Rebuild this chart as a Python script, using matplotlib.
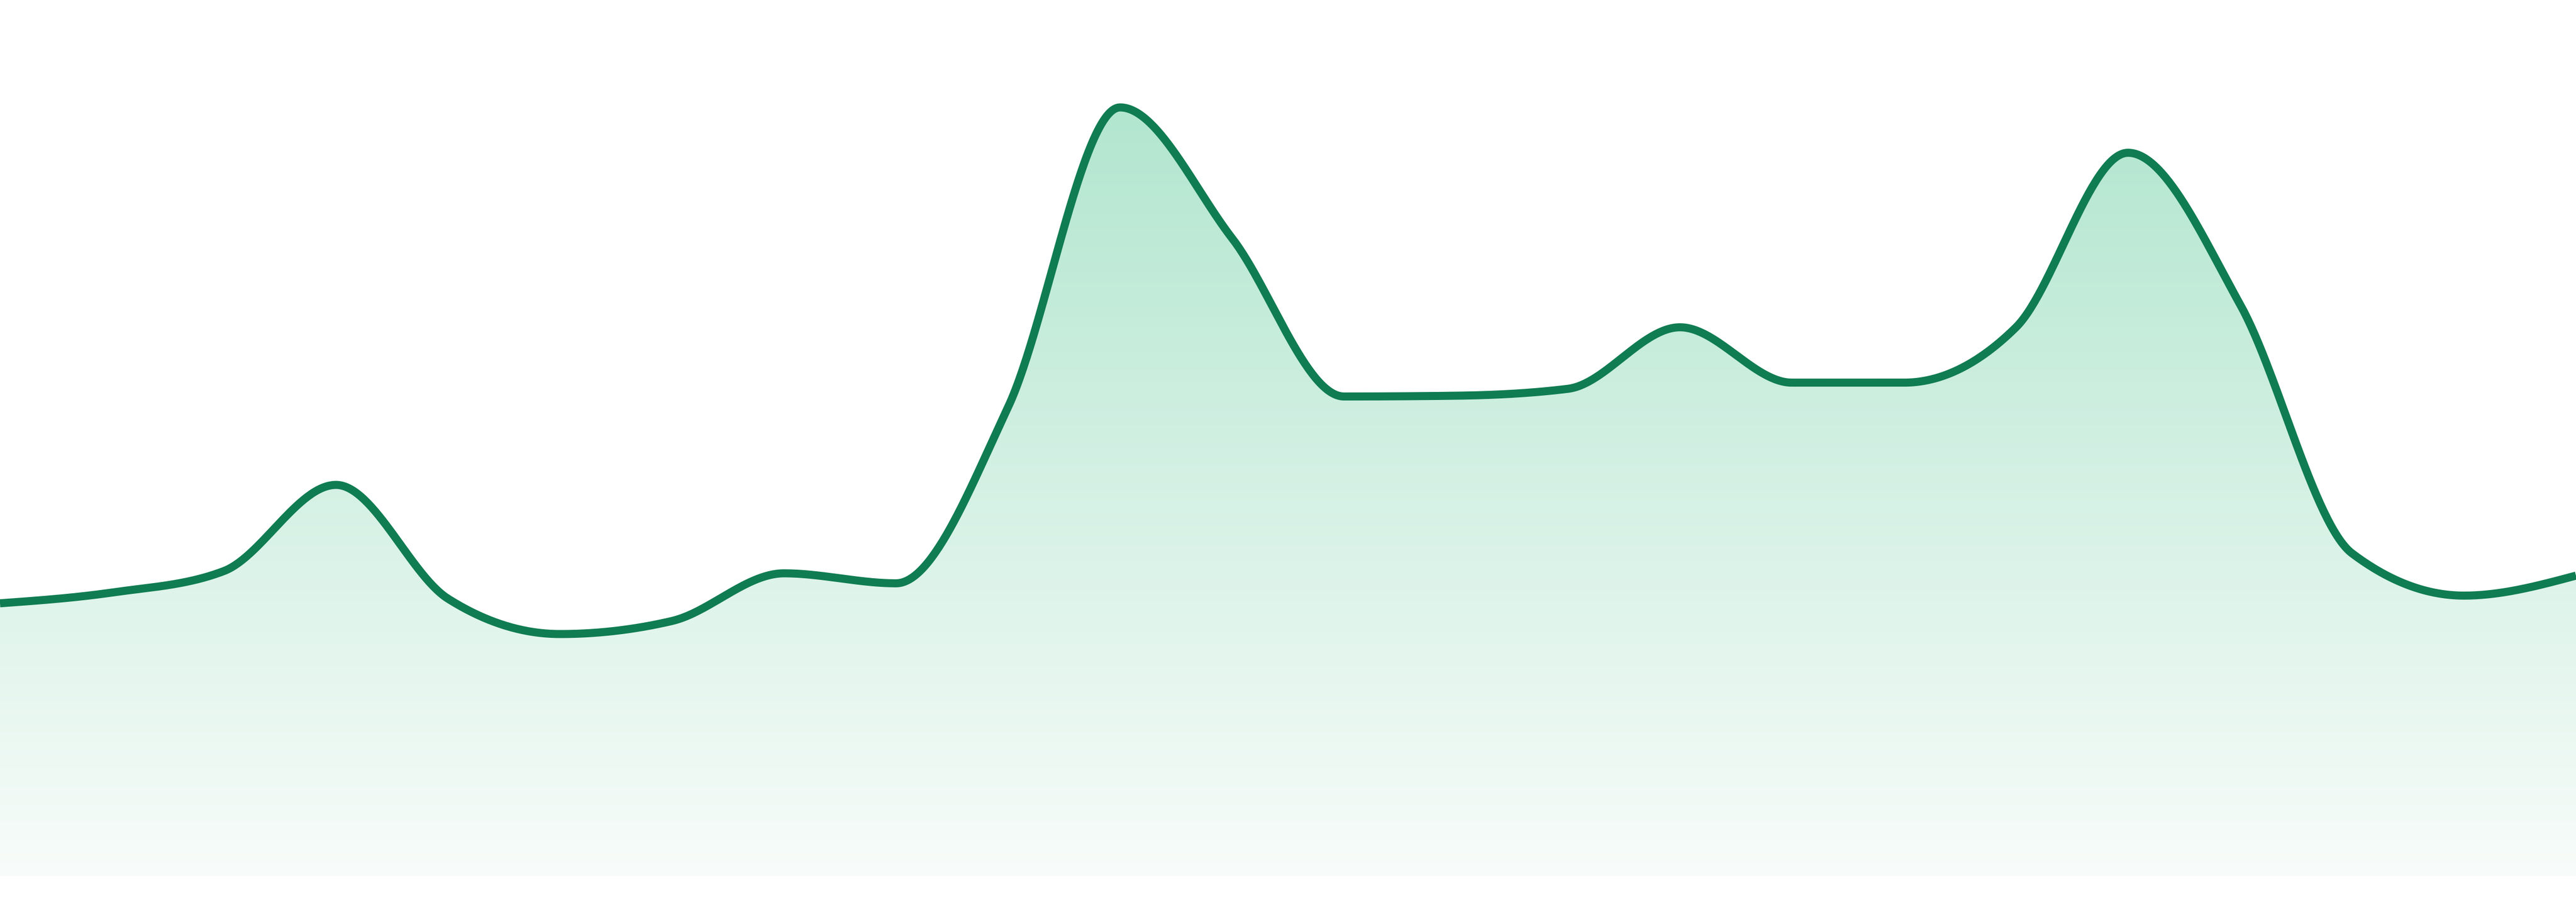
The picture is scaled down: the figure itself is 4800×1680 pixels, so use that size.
import numpy as np
import matplotlib
matplotlib.use("Agg")
import matplotlib.pyplot as plt

# data (one value per step, 24 steps)
steps = list(range(24))
values = [35.5, 36.9, 39.7, 50.9, 36.1, 31.5, 33.2, 39.4, 38.1, 61.0, 100.0, 83.0,
          62.4, 62.5, 63.4, 71.4, 64.2, 64.2, 71.4, 94.1, 74.4, 42.0, 36.5, 39.1]

line_color = "#107c52"
top_rgb = np.array([178, 230, 207]) / 255
bottom_rgb = np.array([248, 252, 250]) / 255


def monotone_x(x, y, n=60):
    # monotone cubic like d3.curveMonotoneX
    x = np.asarray(x, float)
    y = np.asarray(y, float)
    h = np.diff(x)
    s = np.diff(y) / h
    t = np.zeros(len(x))
    for i in range(1, len(x) - 1):
        s0, s1 = s[i - 1], s[i]
        p = (s0 * h[i] + s1 * h[i - 1]) / (h[i - 1] + h[i])
        sg = (1 if s0 >= 0 else -1) + (1 if s1 >= 0 else -1)
        t[i] = sg * min(abs(s0), abs(s1), 0.5 * abs(p))
    t[0] = (3 * s[0] - t[1]) / 2
    t[-1] = (3 * s[-1] - t[-2]) / 2
    xs, ys = [], []
    for i in range(len(x) - 1):
        u = np.linspace(0, 1, n, endpoint=(i == len(x) - 2))
        h00 = 2 * u**3 - 3 * u**2 + 1
        h10 = u**3 - 2 * u**2 + u
        h01 = -2 * u**3 + 3 * u**2
        h11 = u**3 - u**2
        xs.append(x[i] + u * h[i])
        ys.append(h00 * y[i] + h10 * h[i] * t[i] + h01 * y[i + 1] + h11 * h[i] * t[i + 1])
    return np.concatenate(xs), np.concatenate(ys)


fig = plt.figure(figsize=(16, 5.6), dpi=300)
ax = fig.add_axes([0, 0, 1, 1])
ymin, ymax = -3.352, 113.97
ax.axis("off")

xs, ys = monotone_x(steps, values)

# gradient fill under the curve
poly = ax.fill_between(xs, ys, 0, color="none", lw=0)
grid = np.linspace(ymax, 0, 400)
frac = np.clip(grid / 100.0, 0, 1.1)[:, None]
img = bottom_rgb + (top_rgb - bottom_rgb) * frac
img = np.clip(img, 0, 1)[:, None, :]
im = ax.imshow(img, extent=[steps[0], steps[-1], 0, ymax], aspect="auto",
               interpolation="bilinear", zorder=1)
path = poly.get_paths()[0]
im.set_clip_path(path, transform=ax.transData)

ax.plot(xs, ys, color=line_color, lw=3.6, solid_capstyle="butt", zorder=2)

# imshow resets limits, so set them last
ax.set_xlim(steps[0], steps[-1])
ax.set_ylim(ymin, ymax)

fig.savefig("out.png", dpi=300, facecolor="white")
